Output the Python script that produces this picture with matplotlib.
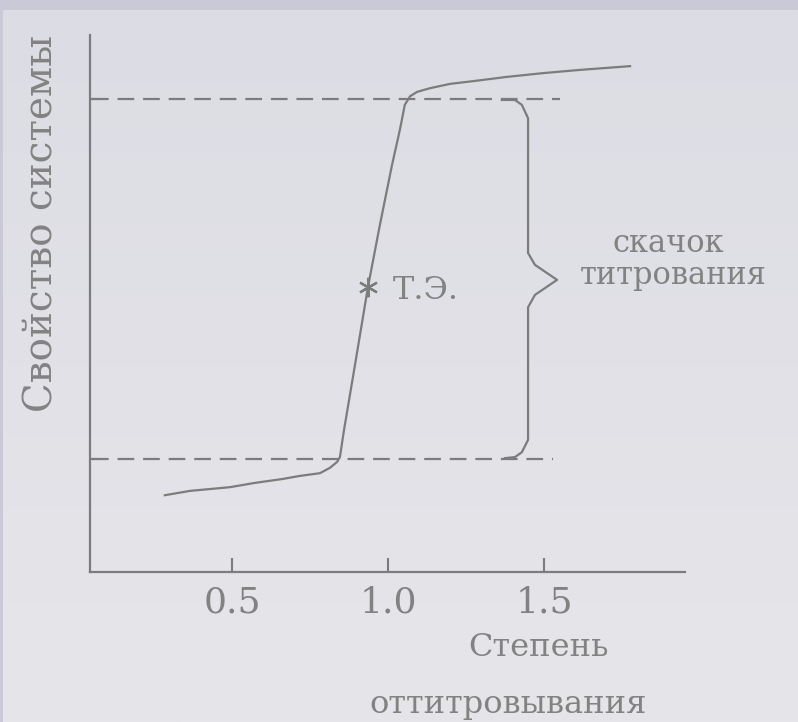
import matplotlib.pyplot as plt
import numpy as np
from matplotlib.colors import LinearSegmentedColormap

# curve: degree of titration vs property of the system
x_curve = [0.285, 0.365, 0.494, 0.574, 0.660, 0.718, 0.782, 0.814, 0.837, 0.846,
           0.859, 0.897, 0.936, 0.974, 1.013, 1.038, 1.054, 1.071, 1.093, 1.135,
           1.199, 1.272, 1.381, 1.497, 1.615, 1.776]
y_curve = [1.43, 1.51, 1.58, 1.66, 1.73, 1.79, 1.84, 1.94, 2.05, 2.14,
           2.64, 3.95, 5.31, 6.46, 7.58, 8.23, 8.70, 8.86, 8.94, 9.01,
           9.09, 9.14, 9.22, 9.29, 9.35, 9.42]

# equivalence point
x_eq, y_eq = 0.936, 5.31

# jump limits (dashed lines)
y_low, y_high = 2.1, 8.8
x_low_end, x_high_end = 1.529, 1.551

# brace
x_brace = [1.365, 1.407, 1.429, 1.449, 1.449, 1.471, 1.542, 1.471, 1.449,
           1.449, 1.429, 1.407, 1.375]
y_brace = [8.79, 8.79, 8.70, 8.45, 5.94, 5.72, 5.44, 5.16, 4.93,
           2.46, 2.23, 2.14, 2.12]

xticks = [0.5, 1.0, 1.5]
xtick_labels = ['0.5', '1.0', '1.5']

gray = '#7c7c7c'
tgray = '#828282'
W, H = 798, 722

fig = plt.figure(figsize=(W / 100, H / 100), dpi=100, facecolor='#c9c9d7')

# background panel with a soft vertical gradient
bg = fig.add_axes([3 / W, 0, 1 - 3 / W, 1 - 10 / H])
grad = np.linspace(0, 1, 256).reshape(-1, 1)
cmap = LinearSegmentedColormap.from_list('bg', ['#dcdce4', '#e6e6ea'])
bg.imshow(grad, aspect='auto', cmap=cmap, extent=[0, 1, 0, 1], origin='upper')
bg.axis('off')

ax = fig.add_axes([90 / W, 1 - 572 / H, (685 - 90) / W, (572 - 35) / H])
ax.patch.set_alpha(0)
ax.set_xlim(0.045, 1.952)
ax.set_ylim(0, 10)

ax.plot(x_curve, y_curve, color=gray, lw=1.6, solid_joinstyle='round')
ax.plot([0.051, x_low_end], [y_low, y_low], color=gray, lw=1.6, dashes=(7.5, 4))
ax.plot([0.051, x_high_end], [y_high, y_high], color=gray, lw=1.6, dashes=(7.5, 4))
ax.plot(x_brace, y_brace, color=gray, lw=1.6)
ax.plot([x_eq], [y_eq], marker=(6, 2, 0), ms=14, mew=1.6, color=gray)

font = 'DejaVu Serif'
ax.text(x_eq + 0.08, y_eq - 0.22, 'Т.Э.', fontsize=23, family=font, color=tgray,
        ha='left', va='baseline')
ax.text(1.897, 5.96, 'скачок', fontsize=22, family=font, color=tgray,
        ha='center', va='baseline', clip_on=False)
ax.text(1.913, 5.36, 'титрования', fontsize=22, family=font, color=tgray,
        ha='center', va='baseline', clip_on=False)

for s in ['top', 'right']:
    ax.spines[s].set_visible(False)
for s in ['left', 'bottom']:
    ax.spines[s].set_color(gray)
    ax.spines[s].set_linewidth(1.6)

ax.set_xticks(xticks)
ax.set_xticklabels(xtick_labels, fontsize=26, family=font, color=tgray)
ax.set_yticks([y_low, y_high])
ax.set_yticklabels([])
ax.tick_params(axis='x', direction='in', length=10, width=1.5, color=gray, pad=10)
ax.tick_params(axis='y', direction='in', length=7, width=1.5, color=gray)

fig.text(539 / W, 1 - 656 / H, 'Степень', fontsize=23, family=font, color=tgray,
         ha='center', va='baseline')
fig.text(508 / W, 1 - 713 / H, 'оттитровывания', fontsize=23, family=font, color=tgray,
         ha='center', va='baseline')
fig.text(42 / W, 1 - 223 / H, 'Свойство системы', fontsize=28, family=font, color=tgray,
         rotation=90, ha='center', va='center')

fig.savefig('out.png', dpi=100, facecolor=fig.get_facecolor())
